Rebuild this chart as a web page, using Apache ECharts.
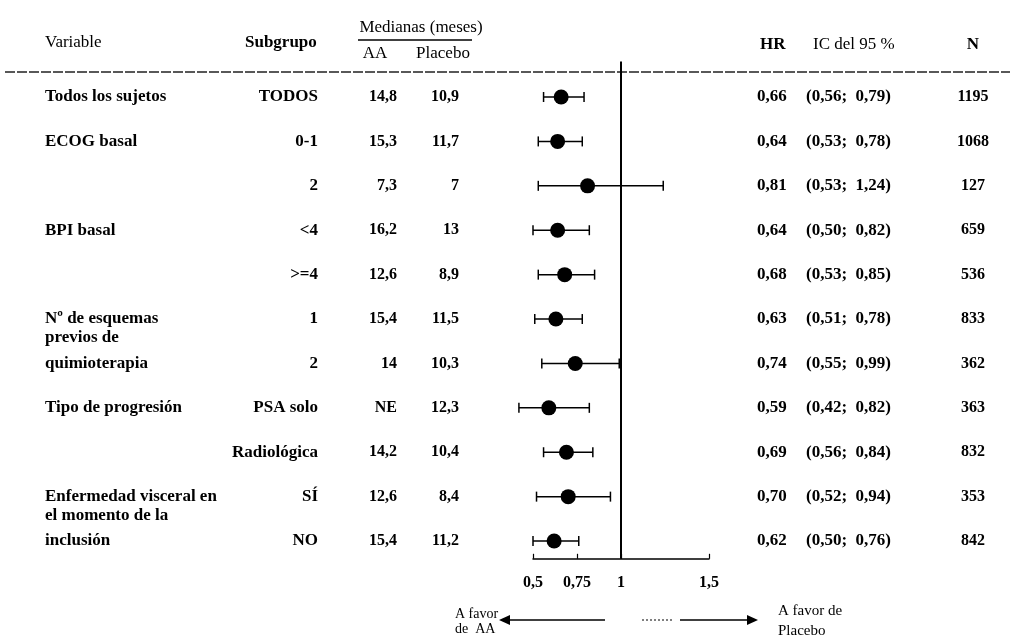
<!DOCTYPE html>
<html>
<head>
<meta charset="utf-8">
<script src="https://cdn.jsdelivr.net/npm/echarts@6/dist/echarts.min.js"></script>
<style>html,body{margin:0;background:#fff}#main{width:1010px;height:642px}</style>
</head>
<body>
<div id="main"></div>
<script>
var variables = ['Todos los sujetos','ECOG basal','','BPI basal','','Nº de esquemas\nprevios de','quimioterapia','Tipo de progresión','','Enfermedad visceral en\nel momento de la','inclusión'];
var subgroups = ['TODOS','0-1','2','<4','>=4','1','2','PSA solo','Radiológica','SÍ','NO'];
var aaMedian = ['14,8','15,3','7,3','16,2','12,6','15,4','14','NE','14,2','12,6','15,4'];
var placeboMedian = ['10,9','11,7','7','13','8,9','11,5','10,3','12,3','10,4','8,4','11,2'];
var hr = [0.66,0.64,0.81,0.64,0.68,0.63,0.74,0.59,0.69,0.70,0.62];
var ciLow = [0.56,0.53,0.53,0.50,0.53,0.51,0.55,0.42,0.56,0.52,0.50];
var ciHigh = [0.79,0.78,1.24,0.82,0.85,0.78,0.99,0.82,0.84,0.94,0.76];
var nPatients = [1195,1068,127,659,536,833,362,363,832,353,842];
var xTicks = [0.5,0.75,1,1.5];

var FONT = 'Liberation Serif';
function fmt(v){ return v.toFixed(2).replace('.', ','); }

var myChart = echarts.init(document.getElementById('main'));

var dots = hr.map(function(v,i){ return [v,i]; });
var bars = hr.map(function(v,i){ return [ciLow[i],ciHigh[i],i]; });

myChart.setOption({
  animation:false,
  grid:{left:533, right:301, top:61.5, bottom:83.2},
  xAxis:{
    type:'value', min:0.5, max:1.5,
    splitLine:{show:false},
    axisLine:{onZero:false, lineStyle:{color:'#000', width:1.5}},
    axisTick:{inside:true, length:5, customValues:xTicks, lineStyle:{color:'#000', width:1.2}},
    axisLabel:{customValues:xTicks, margin:16, color:'#000', fontFamily:FONT, fontSize:16, fontWeight:'bold',
      formatter:function(v){ return String(v).replace('.', ','); }}
  },
  yAxis:{type:'value', inverse:true, min:-0.8, max:10.4, show:false},
  series:[{
    type:'custom',
    data:bars,
    renderItem:function(params, api){
      var lo = api.coord([api.value(0), api.value(2)]);
      var hi = api.coord([api.value(1), api.value(2)]);
      var st = {stroke:'#000', lineWidth:1.5};
      return {type:'group', children:[
        {type:'line', shape:{x1:lo[0],y1:lo[1],x2:hi[0],y2:hi[1]}, style:st},
        {type:'line', shape:{x1:lo[0],y1:lo[1]-5,x2:lo[0],y2:lo[1]+5}, style:st},
        {type:'line', shape:{x1:hi[0],y1:hi[1]-5,x2:hi[0],y2:hi[1]+5}, style:st}
      ]};
    }
  },{
    type:'scatter',
    data:dots,
    symbol:'circle',
    symbolSize:15,
    itemStyle:{color:'#000', opacity:1},
    markLine:{
      silent:true, symbol:'none', label:{show:false},
      lineStyle:{color:'#000', width:2, type:'solid'},
      data:[{xAxis:1}]
    }
  }]
});

// texto de la tabla
function txt(x, y, s, align, opts){
  opts = opts || {};
  return {type:'text', x:x, y:y, silent:true, style:{
    text:s, fill:'#000', font:(opts.weight || 'bold') + ' ' + (opts.size || 17) + 'px "' + FONT + '"',
    textAlign:align || 'left', textVerticalAlign:opts.va || 'middle', lineHeight:opts.lh || 19
  }};
}

var g = [];
g.push({type:'line', shape:{x1:5,y1:72,x2:1010,y2:72}, style:{stroke:'#222', lineWidth:1.4, lineDash:[10,2]}});
g.push(txt(45, 43, 'Variable', 'left', {weight:'normal'}));
g.push(txt(245, 43, 'Subgrupo', 'left'));
g.push(txt(421, 28, 'Medianas (meses)', 'center', {weight:'normal'}));
g.push({type:'line', shape:{x1:358,y1:40,x2:472,y2:40}, style:{stroke:'#000', lineWidth:1.5}});
g.push(txt(375, 54, 'AA', 'center', {weight:'normal'}));
g.push(txt(443, 54, 'Placebo', 'center', {weight:'normal'}));
g.push(txt(760, 45, 'HR', 'left'));
g.push(txt(813, 45, 'IC del 95 %', 'left', {weight:'normal'}));
g.push(txt(973, 45, 'N', 'center'));

hr.forEach(function(v, i){
  var y = myChart.convertToPixel({yAxisIndex:0}, i);
  var name = variables[i];
  if (name.indexOf('\n') >= 0) g.push(txt(45, y - 9.5, name, 'left', {va:'top', lh:19}));
  else if (name) g.push(txt(45, y, name, 'left'));
  g.push(txt(318, y, subgroups[i], 'right'));
  g.push(txt(397, y, aaMedian[i], 'right', {size:16}));
  g.push(txt(459, y, placeboMedian[i], 'right', {size:16}));
  g.push(txt(757, y, fmt(v), 'left', {size:17}));
  g.push(txt(806, y, '(' + fmt(ciLow[i]) + ';  ' + fmt(ciHigh[i]) + ')', 'left', {size:17}));
  g.push(txt(973, y, String(nPatients[i]), 'center', {size:16}));
});

// flechas
g.push({type:'line', shape:{x1:508,y1:620,x2:605,y2:620}, style:{stroke:'#000', lineWidth:1.5}});
g.push({type:'polygon', shape:{points:[[499,620],[510,615],[510,625]]}, style:{fill:'#000'}});
g.push({type:'line', shape:{x1:642,y1:620,x2:672,y2:620}, style:{stroke:'#000', lineWidth:1.2, lineDash:[2,2]}});
g.push({type:'line', shape:{x1:680,y1:620,x2:750,y2:620}, style:{stroke:'#000', lineWidth:1.5}});
g.push({type:'polygon', shape:{points:[[758,620],[747,615],[747,625]]}, style:{fill:'#000'}});
g.push(txt(455, 607, 'A favor\nde  AA', 'left', {va:'top', lh:15, size:14, weight:'normal'}));
g.push(txt(778, 601, 'A favor de\nPlacebo', 'left', {va:'top', lh:20, size:15, weight:'normal'}));

myChart.setOption({graphic:g});
</script>
</body>
</html>
